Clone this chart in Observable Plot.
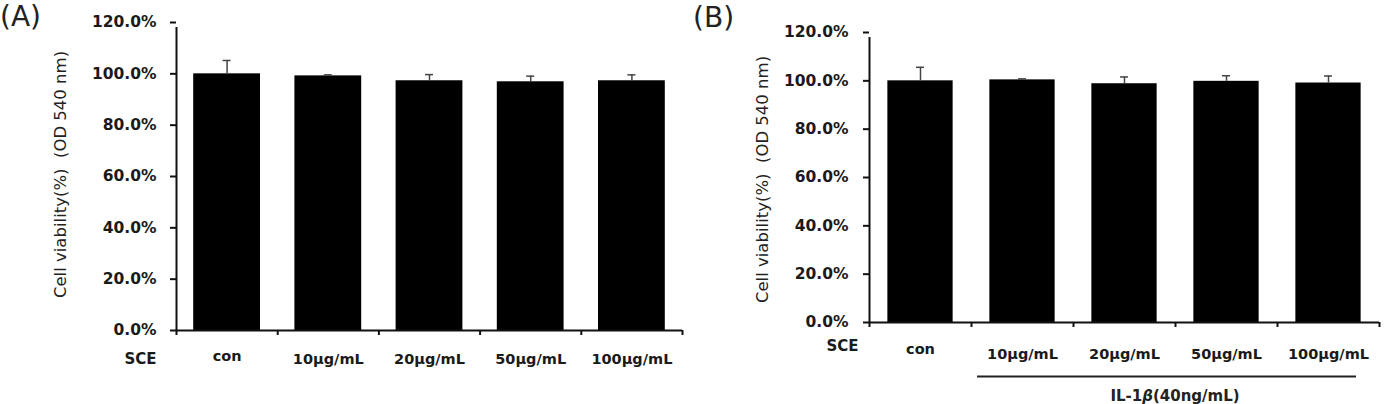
<!DOCTYPE html>
<html>
<head>
<meta charset="utf-8">
<script src="https://cdn.jsdelivr.net/npm/d3@7"></script>
<script src="https://cdn.jsdelivr.net/npm/@observablehq/plot@0.6"></script>
<style>
  html, body { margin: 0; padding: 0; background: #fff; }
  #wrap { position: relative; width: 1398px; height: 404px; overflow: hidden; background: #fff; font-family: "DejaVu Sans", sans-serif; color: #1a1a1a; }
  .panel { position: absolute; top: 0; }
  .letter { position: absolute; font-size: 28px; line-height: 33px; font-weight: normal; color: #222; }
  .note { position: absolute; font-size: 15px; line-height: 15px; font-weight: bold; color: #222; white-space: nowrap; transform: translateX(-50%); }
</style>
</head>
<body>
<div id="wrap">
  <div class="letter" style="left:0px; top:0px;">(A)</div>
  <div class="letter" style="left:693px; top:1px;">(B)</div>
  <div class="panel" id="pA" style="left:0px;"></div>
  <div class="panel" id="pB" style="left:690px;"></div>
  <div class="note" style="left:1175px; top:389px;">IL-1<i>β</i>(40ng/mL)</div>
</div>
<script>
// ---- data ----
const categories = ["con", "10µg/mL", "20µg/mL", "50µg/mL", "100µg/mL"];
const viabilityA = [100.0, 99.2, 97.3, 96.9, 97.3];
const errorA     = [5.2, 0.4, 2.4, 2.2, 2.3];
const viabilityB = [100.0, 100.4, 98.8, 99.8, 99.1];
const errorB     = [5.6, 0.4, 2.8, 2.3, 2.9];
const yTicks = [0, 20, 40, 60, 80, 100, 120];
const yTitle = "Cell viability(%)  (OD 540 nm)";
const groupLabel = "SCE";
const treatedRange = [1, 5]; // categories under IL-1β bracket (index start, end)

function makePanel(values, errors, o) {
  const data = categories.map((c, i) => ({i, c, v: values[i], e: errors[i]}));
  const boundaries = d3.range(categories.length + 1);
  const marks = [
    Plot.rect(data, {x1: d => d.i + o.pad, x2: d => d.i + 1 - o.pad, y1: 0, y2: "v", fill: "#000"}),
    Plot.ruleX(data, {x: d => d.i + 0.5, y1: "v", y2: d => d.v + d.e, stroke: "#444", strokeWidth: 1.5}),
    Plot.ruleY(data, {y: d => d.v + d.e, x1: d => d.i + 0.5, x2: d => d.i + 0.5, insetLeft: -4, insetRight: -4, stroke: "#444", strokeWidth: 1.5}),
    Plot.axisY({ticks: yTicks, tickSize: 6, tickPadding: o.tickPad, strokeWidth: 2, stroke: "#111",
      tickFormat: d => d.toFixed(1) + "%", fontSize: 15.5, fontWeight: "bold", fill: "#1a1a1a", label: null}),
    Plot.axisX({ticks: boundaries, tickSize: 5, strokeWidth: 2, stroke: "#111", tickFormat: () => "", label: null}),
    Plot.ruleX([0], {y1: 0, y2: 120, insetBottom: -5, stroke: "#111", strokeWidth: 2}),
    Plot.ruleY([0], {stroke: "#111", strokeWidth: 2}),
    Plot.text(data.slice(0, 1), {x: d => d.i + 0.5, frameAnchor: "bottom", dy: o.conDy, text: "c",
      fontSize: 14.5, fontWeight: "bold", fill: "#1a1a1a"}),
    Plot.text(data.slice(1), {x: d => d.i + 0.5, frameAnchor: "bottom", dy: o.labDy, text: "c",
      fontSize: 14.5, fontWeight: "bold", fill: "#1a1a1a"}),
    Plot.text([groupLabel], {frameAnchor: "bottom-left", textAnchor: "end", dx: o.sceDx, dy: o.sceDy,
      fontSize: 15, fontWeight: "bold", fill: "#1a1a1a"}),
    Plot.text([yTitle], {frameAnchor: "left", textAnchor: "middle", rotate: -90, dx: o.titleDx, dy: o.titleDy,
      fontSize: 16.5, fill: "#222"})
  ];
  if (o.bracket) {
    marks.push(Plot.ruleY([0], {x1: treatedRange[0], x2: treatedRange[1], insetLeft: 6, insetRight: 23,
      dy: o.bracketDy, stroke: "#222", strokeWidth: 2}));
  }
  return Plot.plot({
    width: o.width, height: 404,
    marginLeft: o.ml, marginRight: o.mr, marginTop: o.mt, marginBottom: o.mb,
    style: {fontFamily: "DejaVu Sans, sans-serif", background: "transparent", overflow: "visible"},
    x: {type: "linear", domain: [0, categories.length]},
    y: {domain: [0, 120]},
    marks
  });
}

document.getElementById("pA").append(makePanel(viabilityA, errorA, {
  width: 690, ml: 176, mr: 8, mt: 22, mb: 74, pad: 0.17, tickPad: 14,
  conDy: 30, labDy: 33, sceDx: -20, sceDy: 33, titleDx: -116, titleDy: -2
}));
document.getElementById("pB").append(makePanel(viabilityB, errorB, {
  width: 708, ml: 179, mr: 19, mt: 32, mb: 82, pad: 0.18, tickPad: 15,
  conDy: 31, labDy: 36, sceDx: -11, sceDy: 28, titleDx: -107, titleDy: 2,
  bracket: true, bracketDy: 54
}));
</script>
</body>
</html>
